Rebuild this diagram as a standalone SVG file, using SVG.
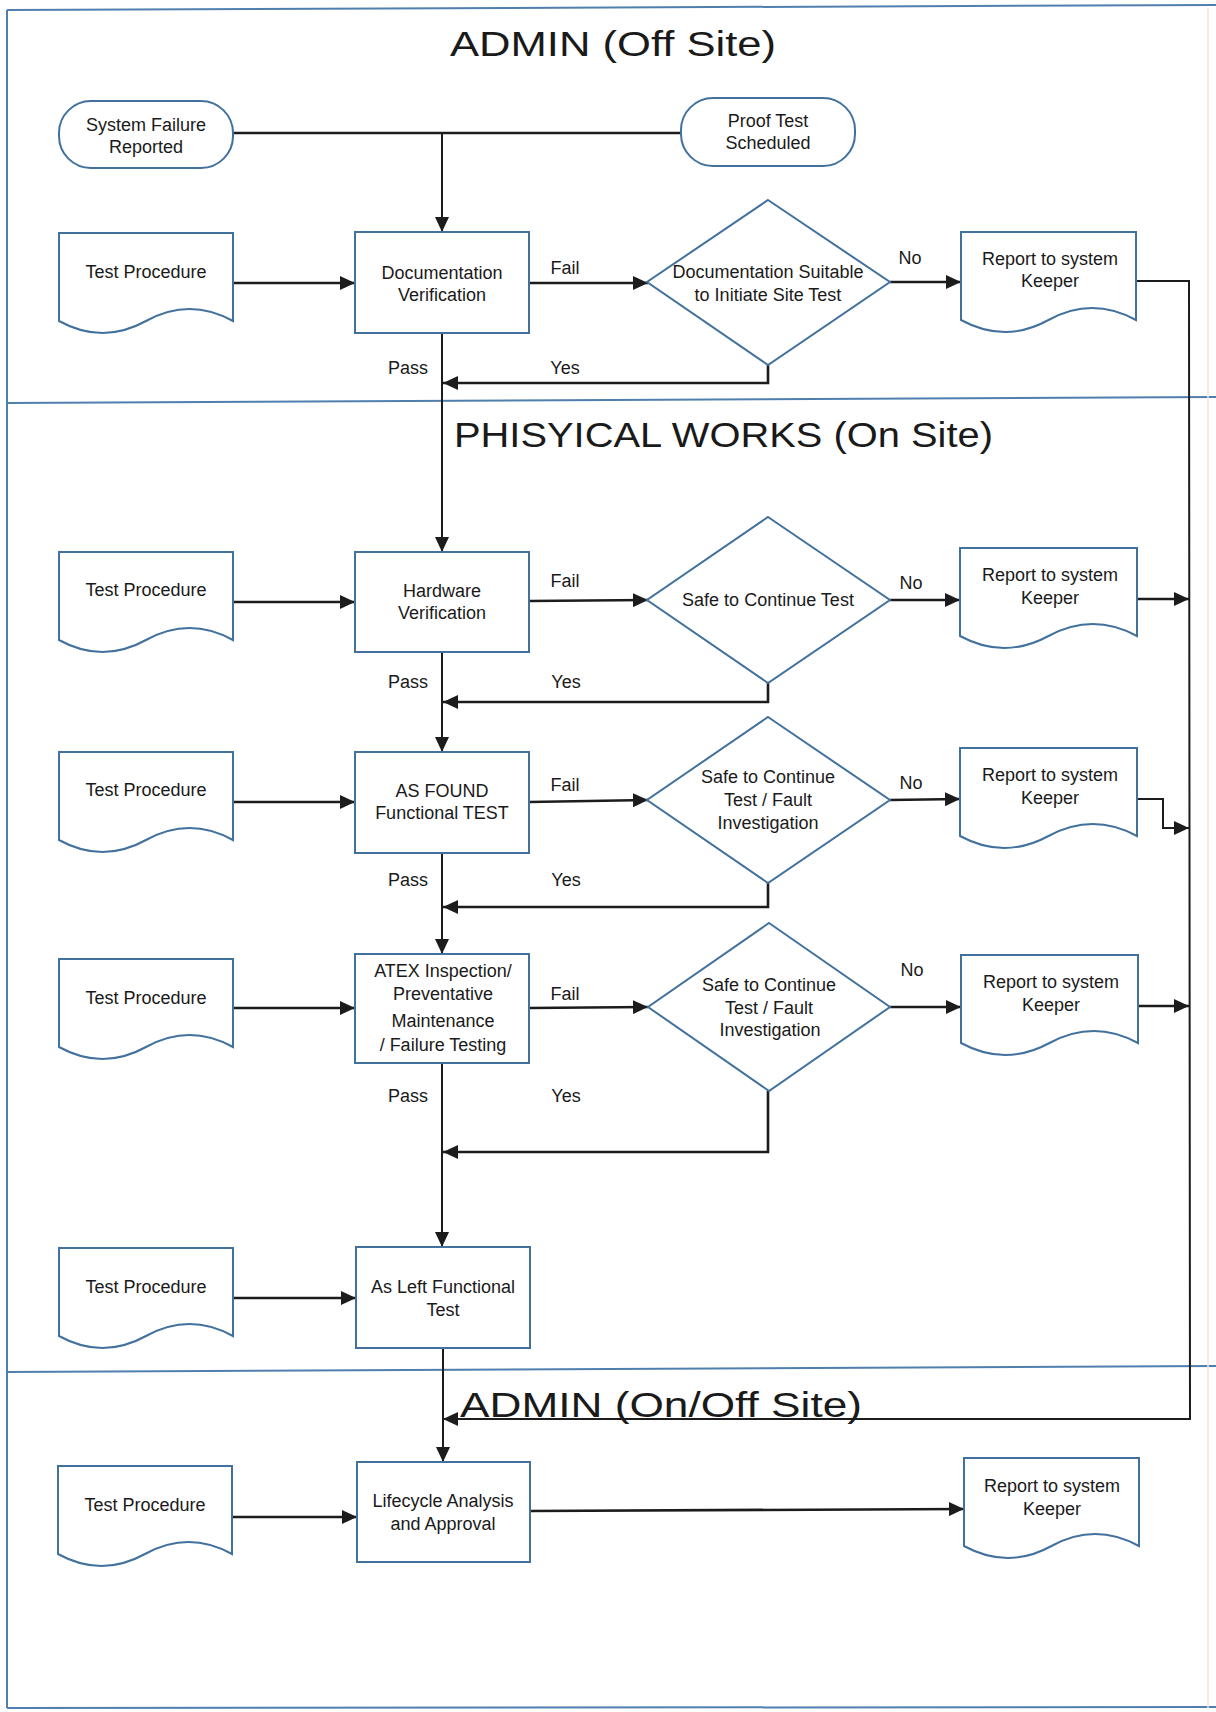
<svg xmlns="http://www.w3.org/2000/svg" width="1216" height="1712" viewBox="0 0 1216 1712">
  <defs>
    <marker id="arrow" markerUnits="userSpaceOnUse" markerWidth="16" markerHeight="14" refX="15" refY="7" orient="auto">
      <path d="M0,0 L15,7 L0,14 Z" fill="#1c1c1c"/>
    </marker>
    <style>
      .lane { stroke: #4f7fae; stroke-width: 2; fill: none; }
      .shape { fill: #ffffff; stroke: #41719c; stroke-width: 2; }
      .conn { fill: none; stroke: #1c1c1c; stroke-width: 2.6; }
      .conn-thin { fill: none; stroke: #1c1c1c; stroke-width: 2; }
      .arr { marker-end: url(#arrow); }
      text { font-family: "Liberation Sans", Arial, sans-serif; fill: #1a1a1a; }
      .lbl { font-size: 18px; text-anchor: middle; }
      .title { font-size: 35px; }
    </style>
  </defs>

  <rect width="1216" height="1712" fill="#ffffff"/>

  <!-- swimlane frame and dividers -->
  <g id="lanes">
    <line class="lane" x1="7" y1="10" x2="1216" y2="5"/>
    <line class="lane" x1="7" y1="10" x2="7" y2="1708"/>
    <line class="lane" x1="7" y1="1708" x2="1216" y2="1707"/>
    <line class="lane" x1="7" y1="403" x2="1216" y2="397"/>
    <line class="lane" x1="7" y1="1372" x2="1216" y2="1366"/>
    <line x1="1208" y1="8" x2="1208" y2="1708" stroke="#efe3d8" stroke-width="1.5"/>
  </g>

  <!-- lane titles -->
  <g id="titles">
    <text class="title" x="450" y="56" textLength="326" lengthAdjust="spacingAndGlyphs">ADMIN (Off Site)</text>
    <text class="title" x="454" y="447" textLength="539" lengthAdjust="spacingAndGlyphs">PHISYICAL WORKS (On Site)</text>
    <text class="title" x="460" y="1417" textLength="402" lengthAdjust="spacingAndGlyphs">ADMIN (On/Off Site)</text>
  </g>

  <!-- connectors -->
  <g id="connectors">
    <!-- start events into documentation verification -->
    <line class="conn" x1="233" y1="133" x2="681" y2="133"/>
    <line class="conn-thin arr" x1="442" y1="133" x2="442" y2="232"/>

    <!-- test procedures into activities -->
    <line class="conn arr" x1="233" y1="283" x2="355" y2="283"/>
    <line class="conn arr" x1="233" y1="602" x2="355" y2="602"/>
    <line class="conn arr" x1="233" y1="802" x2="355" y2="802"/>
    <line class="conn arr" x1="233" y1="1008" x2="355" y2="1008"/>
    <line class="conn arr" x1="233" y1="1298" x2="356" y2="1298"/>
    <line class="conn arr" x1="232" y1="1517" x2="357" y2="1517"/>

    <!-- fail branches -->
    <line class="conn arr" x1="529" y1="283" x2="648" y2="283"/>
    <line class="conn arr" x1="529" y1="601" x2="648" y2="600"/>
    <line class="conn arr" x1="529" y1="802" x2="648" y2="800"/>
    <line class="conn arr" x1="529" y1="1008" x2="648" y2="1007"/>

    <!-- no branches -->
    <line class="conn arr" x1="890" y1="282" x2="961" y2="282"/>
    <line class="conn arr" x1="890" y1="600" x2="960" y2="600"/>
    <line class="conn arr" x1="890" y1="800" x2="960" y2="799"/>
    <line class="conn arr" x1="890" y1="1007" x2="961" y2="1007"/>

    <!-- reports to the return bus -->
    <polyline class="conn-thin arr" points="1136,281 1189,281 1190,1419 443,1419"/>
    <line class="conn arr" x1="1137" y1="599" x2="1189" y2="599"/>
    <polyline class="conn-thin arr" points="1137,799 1163,799 1163,828 1189,828"/>
    <line class="conn arr" x1="1138" y1="1006" x2="1189" y2="1006"/>

    <!-- yes returns to main line -->
    <polyline class="conn arr" points="768,365 768,383 443,383"/>
    <polyline class="conn arr" points="768,683 768,702 443,702"/>
    <polyline class="conn arr" points="768,883 768,907 443,907"/>
    <polyline class="conn arr" points="768,1091 768,1152 443,1152"/>

    <!-- main pass line -->
    <line class="conn-thin arr" x1="442" y1="333" x2="442" y2="552"/>
    <line class="conn-thin arr" x1="442" y1="652" x2="442" y2="752"/>
    <line class="conn-thin arr" x1="442" y1="853" x2="442" y2="954"/>
    <line class="conn-thin arr" x1="442" y1="1063" x2="442" y2="1247"/>
    <line class="conn-thin arr" x1="443" y1="1348" x2="443" y2="1462"/>

    <!-- final report -->
    <line class="conn arr" x1="530" y1="1511" x2="964" y2="1509"/>

    <!-- branch labels -->
    <text class="lbl" x="565" y="274">Fail</text>
    <text class="lbl" x="910" y="264">No</text>
    <text class="lbl" x="408" y="374">Pass</text>
    <text class="lbl" x="565" y="374">Yes</text>

    <text class="lbl" x="565" y="587">Fail</text>
    <text class="lbl" x="911" y="589">No</text>
    <text class="lbl" x="408" y="688">Pass</text>
    <text class="lbl" x="566" y="688">Yes</text>

    <text class="lbl" x="565" y="791">Fail</text>
    <text class="lbl" x="911" y="789">No</text>
    <text class="lbl" x="408" y="886">Pass</text>
    <text class="lbl" x="566" y="886">Yes</text>

    <text class="lbl" x="565" y="1000">Fail</text>
    <text class="lbl" x="912" y="976">No</text>
    <text class="lbl" x="408" y="1102">Pass</text>
    <text class="lbl" x="566" y="1102">Yes</text>
  </g>

  <!-- start events -->
  <g id="system-failure-reported">
    <rect class="shape" x="59" y="101" width="174" height="67" rx="32" ry="32"/>
    <text class="lbl" x="146" y="131">System Failure</text>
    <text class="lbl" x="146" y="153">Reported</text>
  </g>
  <g id="proof-test-scheduled">
    <rect class="shape" x="681" y="98" width="174" height="68" rx="32" ry="32"/>
    <text class="lbl" x="768" y="127">Proof Test</text>
    <text class="lbl" x="768" y="149">Scheduled</text>
  </g>

  <!-- row 1 : documentation -->
  <g id="test-procedure-1">
    <path class="shape" d="M59,233 H233 V321 Q189.5,297 146,321 T59,321 Z"/>
    <text class="lbl" x="146" y="278">Test Procedure</text>
  </g>
  <g id="documentation-verification">
    <rect class="shape" x="355" y="232" width="174" height="101"/>
    <text class="lbl" x="442" y="279">Documentation</text>
    <text class="lbl" x="442" y="301">Verification</text>
  </g>
  <g id="documentation-suitable">
    <path class="shape" d="M768,200 L890,282 L768,365 L647,282 Z"/>
    <text class="lbl" x="768" y="278">Documentation Suitable</text>
    <text class="lbl" x="768" y="301">to Initiate Site Test</text>
  </g>
  <g id="report-1">
    <path class="shape" d="M961,232 H1136 V320 Q1092,296 1048.5,320 T961,320 Z"/>
    <text class="lbl" x="1050" y="265">Report to system</text>
    <text class="lbl" x="1050" y="287">Keeper</text>
  </g>

  <!-- row 2 : hardware -->
  <g id="test-procedure-2">
    <path class="shape" d="M59,552 H233 V640 Q189.5,616 146,640 T59,640 Z"/>
    <text class="lbl" x="146" y="596">Test Procedure</text>
  </g>
  <g id="hardware-verification">
    <rect class="shape" x="355" y="552" width="174" height="100"/>
    <text class="lbl" x="442" y="597">Hardware</text>
    <text class="lbl" x="442" y="619">Verification</text>
  </g>
  <g id="safe-to-continue-1">
    <path class="shape" d="M768,517 L890,600 L768,683 L647,600 Z"/>
    <text class="lbl" x="768" y="606">Safe to Continue Test</text>
  </g>
  <g id="report-2">
    <path class="shape" d="M960,548 H1137 V636 Q1092.75,612 1048.5,636 T960,636 Z"/>
    <text class="lbl" x="1050" y="581">Report to system</text>
    <text class="lbl" x="1050" y="604">Keeper</text>
  </g>

  <!-- row 3 : as found -->
  <g id="test-procedure-3">
    <path class="shape" d="M59,752 H233 V840 Q189.5,816 146,840 T59,840 Z"/>
    <text class="lbl" x="146" y="796">Test Procedure</text>
  </g>
  <g id="as-found-functional-test">
    <rect class="shape" x="355" y="752" width="174" height="101"/>
    <text class="lbl" x="442" y="797">AS FOUND</text>
    <text class="lbl" x="442" y="819">Functional TEST</text>
  </g>
  <g id="safe-to-continue-2">
    <path class="shape" d="M768,717 L890,800 L768,883 L647,800 Z"/>
    <text class="lbl" x="768" y="783">Safe to Continue</text>
    <text class="lbl" x="768" y="806">Test  / Fault</text>
    <text class="lbl" x="768" y="829">Investigation</text>
  </g>
  <g id="report-3">
    <path class="shape" d="M960,748 H1137 V836 Q1092.75,812 1048.5,836 T960,836 Z"/>
    <text class="lbl" x="1050" y="781">Report to system</text>
    <text class="lbl" x="1050" y="804">Keeper</text>
  </g>

  <!-- row 4 : ATEX -->
  <g id="test-procedure-4">
    <path class="shape" d="M59,959 H233 V1047 Q189.5,1023 146,1047 T59,1047 Z"/>
    <text class="lbl" x="146" y="1004">Test Procedure</text>
  </g>
  <g id="atex-inspection">
    <rect class="shape" x="355" y="954" width="174" height="109"/>
    <text class="lbl" x="443" y="977">ATEX Inspection/</text>
    <text class="lbl" x="443" y="1000">Preventative</text>
    <text class="lbl" x="443" y="1027">Maintenance</text>
    <text class="lbl" x="443" y="1051">/ Failure Testing</text>
  </g>
  <g id="safe-to-continue-3">
    <path class="shape" d="M769,923 L890,1007 L769,1091 L648,1007 Z"/>
    <text class="lbl" x="769" y="991">Safe to Continue</text>
    <text class="lbl" x="769" y="1014">Test  / Fault</text>
    <text class="lbl" x="770" y="1036">Investigation</text>
  </g>
  <g id="report-4">
    <path class="shape" d="M961,955 H1138 V1043 Q1093.75,1019 1049.5,1043 T961,1043 Z"/>
    <text class="lbl" x="1051" y="988">Report to system</text>
    <text class="lbl" x="1051" y="1011">Keeper</text>
  </g>

  <!-- row 5 : as left -->
  <g id="test-procedure-5">
    <path class="shape" d="M59,1248 H233 V1336 Q189.5,1312 146,1336 T59,1336 Z"/>
    <text class="lbl" x="146" y="1293">Test Procedure</text>
  </g>
  <g id="as-left-functional-test">
    <rect class="shape" x="356" y="1247" width="174" height="101"/>
    <text class="lbl" x="443" y="1293">As Left Functional</text>
    <text class="lbl" x="443" y="1316">Test</text>
  </g>

  <!-- row 6 : lifecycle -->
  <g id="test-procedure-6">
    <path class="shape" d="M58,1466 H232 V1554 Q188.5,1530 145,1554 T58,1554 Z"/>
    <text class="lbl" x="145" y="1511">Test Procedure</text>
  </g>
  <g id="lifecycle-analysis">
    <rect class="shape" x="357" y="1462" width="173" height="100"/>
    <text class="lbl" x="443" y="1507">Lifecycle Analysis</text>
    <text class="lbl" x="443" y="1530">and Approval</text>
  </g>
  <g id="report-final">
    <path class="shape" d="M964,1458 H1139 V1546 Q1095,1522 1051.5,1546 T964,1546 Z"/>
    <text class="lbl" x="1052" y="1492">Report to system</text>
    <text class="lbl" x="1052" y="1515">Keeper</text>
  </g>
</svg>
